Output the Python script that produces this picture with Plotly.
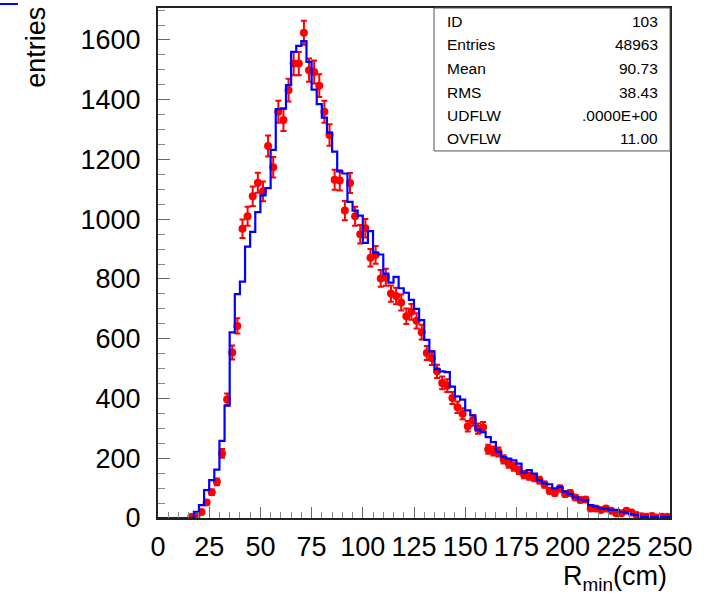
import numpy as np
import plotly.graph_objects as go

# ---------------- data ----------------
bin_width = 2.5
x_min, x_max = 0.0, 250.0
y_max = 1707

# blue histogram contents (100 bins of 2.5 cm from 0 to 250)
blue_counts = [0, 0, 0, 0, 0, 0, 0,
               21, 43, 93, 127, 162, 258, 376, 621, 749, 791,
               908, 958, 1024, 1080, 1104, 1232, 1369, 1371, 1449, 1560,
               1580, 1596, 1527, 1434, 1385, 1340, 1290, 1226, 1160, 1153,
               1058, 1029, 1012, 921, 960, 888, 882, 818, 788, 807,
               769, 754, 730, 700, 662, 596, 558, 499, 491, 488,
               440, 407, 396, 360, 343, 296, 288, 271, 254, 221,
               204, 199, 193, 182, 151, 160, 149, 127, 116, 113,
               99, 104, 88, 80, 69, 62, 58, 43, 38, 32,
               31, 27, 27, 21, 18, 13, 10, 4, 4, 2,
               3, 4, 4]

# red data points (same binning, empty bins not drawn)
red_counts = [None, None, None, None, None, None,
              3, 4, 20, 52, 86, 121, 216, 397, 554, 643,
              968, 1010, 1077, 1122, 1093, 1245, 1174, 1360, 1332, 1432,
              1521, 1521, 1624, 1499, 1493, 1447, 1360, 1282, 1132, 1130,
              1029, 1121, 1010, 950, 970, 871, 881, 802, 806, 751,
              743, 721, 675, 690, 660, 622, 552, 535, 491, 452,
              443, 402, 371, 349, 307, 327, 299, 304, 230, 224,
              221, 196, 182, 171, 160, 145, 140, 135, 127, 112,
              91, 84, 99, 80, 84, 69, 60, 62, 32, 32,
              27, 32, 24, 16, 16, 24, 18, 10, 6, 4,
              7, 2, 4, 4]

stats_labels = ["ID", "Entries", "Mean", "RMS", "UDFLW", "OVFLW"]
stats_values = ["103", "48963", "90.73", "38.43", ".0000E+00", "11.00"]

x_tick_vals = [0, 25, 50, 75, 100, 125, 150, 175, 200, 225, 250]
y_tick_vals = [0, 200, 400, 600, 800, 1000, 1200, 1400, 1600]

# ---------------- derived ----------------
n_bins = len(blue_counts)
edges = [x_min + i * bin_width for i in range(n_bins + 1)]
centers = [x_min + (i + 0.5) * bin_width for i in range(n_bins)]
blue_x = edges
blue_y = blue_counts + [blue_counts[-1]]

red_x = [c for c, v in zip(centers, red_counts) if v is not None]
red_y = [v for v in red_counts if v is not None]
red_err = list(np.sqrt(np.array(red_y, dtype=float)))

FONT = "Liberation Sans, Arial, Helvetica, sans-serif"

fig = go.Figure()
fig.add_trace(go.Scatter(
    x=red_x, y=red_y, mode="markers",
    marker=dict(color="#ff0000", size=8, line=dict(width=0)),
    error_y=dict(type="data", array=red_err, visible=True,
                 color="#ff0000", thickness=2, width=3),
    showlegend=False, hoverinfo="x+y"))
fig.add_trace(go.Scatter(
    x=blue_x, y=blue_y, mode="lines",
    line=dict(color="#0000ff", width=2.2, shape="hv"),
    showlegend=False, hoverinfo="skip"))

# plot area: x 158..670, y 6..518 in a 708x599 page
W, H = 708, 599
L, R, T, B = 158, 670, 6, 518
PW, PH = R - L, B - T

def px(xp):
    return (xp - L) / PW

def py(yp):
    return (B - yp) / PH

fig.update_layout(
    width=W, height=H,
    margin=dict(l=L, r=W - R, t=T, b=H - B, pad=0),
    paper_bgcolor="white", plot_bgcolor="white",
    font=dict(family=FONT, color="black"),
    showlegend=False,
)
fig.update_xaxes(
    range=[x_min, x_max], showgrid=False, zeroline=False,
    showline=True, linecolor="#222222", linewidth=2, mirror=True,
    ticks="inside", ticklen=11, tickwidth=1, tickcolor="#666666",
    tickvals=x_tick_vals, ticktext=[str(v) for v in x_tick_vals],
    tickfont=dict(size=27, family=FONT, color="black"),
    ticklabelstandoff=4,
    minor=dict(dtick=5, ticks="inside", ticklen=6, tickcolor="#888888", tickwidth=1, showgrid=False),
)
fig.update_yaxes(
    range=[0, y_max], showgrid=False, zeroline=False,
    showline=True, linecolor="#222222", linewidth=2, mirror=True,
    ticks="inside", ticklen=12, tickwidth=1, tickcolor="#666666",
    tickvals=y_tick_vals, ticktext=[str(v) for v in y_tick_vals],
    tickfont=dict(size=27, family=FONT, color="black"),
    ticklabelstandoff=10,
    minor=dict(dtick=50, ticks="inside", ticklen=7, tickcolor="#888888", tickwidth=1, showgrid=False),
)

# stats box
shapes = [
    dict(type="rect", xref="paper", yref="paper",
         x0=px(434), x1=1.0, y0=py(149.5), y1=1.0,
         fillcolor="white", line=dict(color="#555555", width=1), layer="above"),
    dict(type="line", xref="paper", yref="paper",
         x0=px(0), x1=px(18), y0=py(2), y1=py(2),
         line=dict(color="#0000ff", width=2)),
]
row_y = [19.5, 43.0, 67.0, 90.5, 114.0, 137.5]
annotations = []
for lab, val, yp in zip(stats_labels, stats_values, row_y):
    annotations.append(dict(text=lab, xref="paper", yref="paper", x=px(445), y=py(yp),
                            xanchor="left", yanchor="middle", showarrow=False,
                            font=dict(size=15.5, family=FONT, color="black")))
    annotations.append(dict(text=val, xref="paper", yref="paper", x=px(660), y=py(yp),
                            xanchor="right", yanchor="middle", showarrow=False,
                            font=dict(size=15.5, family=FONT, color="black")))

annotations.append(dict(text="entries", xref="paper", yref="paper",
                        x=px(36), y=py(46), xanchor="center", yanchor="middle",
                        textangle=-90, showarrow=False,
                        font=dict(size=27, family=FONT, color="black")))
annotations.append(dict(text="R<sub>min</sub>(cm)", xref="paper", yref="paper",
                        x=px(669), y=py(578), xanchor="right", yanchor="middle",
                        showarrow=False,
                        font=dict(size=27, family=FONT, color="black")))

fig.update_layout(shapes=shapes, annotations=annotations)

fig.write_html("out.html",
               config={"displayModeBar": False},
               post_script="document.body.style.margin='0px';document.body.style.padding='0px';")
